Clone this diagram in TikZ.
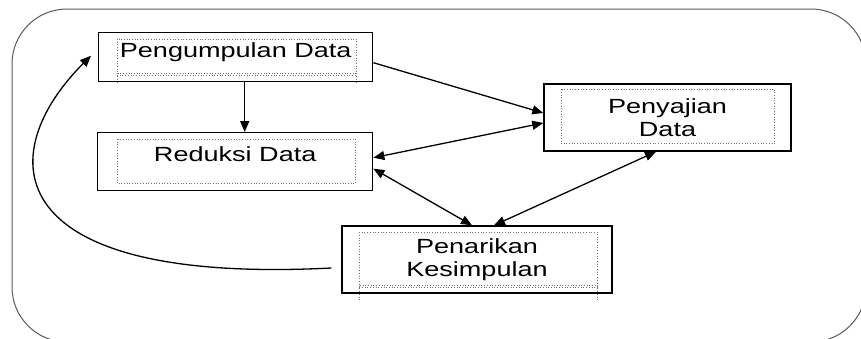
\documentclass[tikz,border=0pt]{standalone}
\usepackage{fontspec}
\setmainfont{Liberation Sans}
\newfontfamily\lebar[FakeStretch=1.32]{Liberation Sans}
\usetikzlibrary{arrows.meta}

\begin{document}
\begin{tikzpicture}[x=1pt, y=-1pt,
        kotak/.style={draw, line width=1.4pt, inner sep=0pt, align=center,
            font=\lebar\fontsize{20.5}{23.5}\selectfont},
        titik/.style={draw=black!55, dotted, line width=0.7pt},
        panah/.style={-{Triangle[length=11pt,width=9pt]}, line width=1.3pt},
        duapanah/.style={{Triangle[length=11pt,width=9pt]}-{Triangle[length=11pt,width=9pt]}, line width=1.3pt}]
        \clip (0,0) rectangle (861,338);

        % Bingkai luar
        \draw[black!65, line width=1pt, rounded corners=55pt] (12,9) rectangle (866,342);

        % Pengumpulan Data
        \node[kotak, anchor=north west, minimum width=274pt, text height=25pt, text depth=24pt] (kumpul) at (98,32) {Pengumpulan Data};
        \draw[titik] ([shift={(19,7)}]kumpul.north west) rectangle ([shift={(-17,-9)}]kumpul.south east);
        \draw[titik] ([shift={(19,-7.5)}]kumpul.south west) -- ([shift={(-17,-7.5)}]kumpul.south east);
        \draw[titik] ([shift={(19,-9)}]kumpul.south west) -- ([shift={(19,1)}]kumpul.south west);
        \draw[titik] ([shift={(-17,-9)}]kumpul.south east) -- ([shift={(-17,1)}]kumpul.south east);

        % Reduksi Data
        \node[kotak, anchor=north west, minimum width=275pt, text height=29pt, text depth=29pt] (reduksi) at (97,132) {Reduksi Data};
        \draw[titik] ([shift={(20,7)}]reduksi.north west) rectangle ([shift={(-18,-8)}]reduksi.south east);

        % Penyajian Data
        \node[kotak, minimum width=247pt, minimum height=67pt] (sajian) at (667.5,117.5) {Penyajian\\Data};
        \draw[titik] ([shift={(18,6)}]sajian.north west) rectangle ([shift={(-17,-8)}]sajian.south east);

        % Penarikan Kesimpulan
        \node[kotak, minimum width=270pt, minimum height=67pt] (tarik) at (477,259.5) {Penarikan\\Kesimpulan};
        \draw[titik] ([shift={(18,7)}]tarik.north west) rectangle ([shift={(-15,-8)}]tarik.south east);
        \draw[titik] ([shift={(18,-6.5)}]tarik.south west) -- ([shift={(-15,-6.5)}]tarik.south east);
        \draw[titik] ([shift={(18,-8)}]tarik.south west) -- ([shift={(18,7)}]tarik.south west);
        \draw[titik] ([shift={(-15,-8)}]tarik.south east) -- ([shift={(-15,7)}]tarik.south east);

        % Panah
        \draw[panah] ([xshift=9pt]kumpul.south) -- ([xshift=9.5pt]reduksi.north);
        \draw[panah] ([yshift=-5.5pt]kumpul.east) -- ([yshift=4.5pt]sajian.west);
        \draw[duapanah] ([yshift=4pt]reduksi.east) -- ([yshift=-5.5pt]sajian.west);
        \draw[duapanah] ([yshift=-7pt]reduksi.east) -- ([xshift=-5pt]tarik.north);
        \draw[duapanah] ([xshift=-11.5pt]sajian.south) -- ([xshift=17pt]tarik.north);
        \draw[panah] ([shift={(-10,8.5)}]tarik.west) .. controls +(-332,17) and +(-100,100) .. ([shift={(-7,-1.5)}]kumpul.west);
    \end{tikzpicture}
\end{document}
